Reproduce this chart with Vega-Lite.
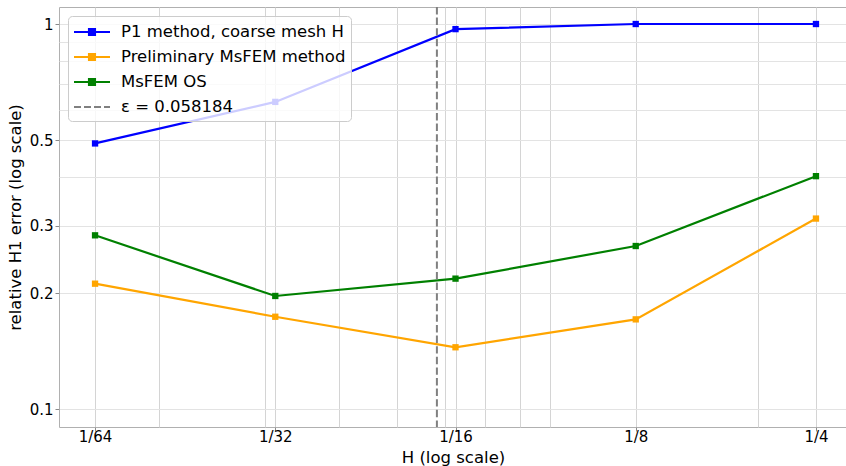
{
  "$schema": "https://vega.github.io/schema/vega-lite/v6.json",
  "width": 788,
  "height": 420,
  "autosize": {"type": "none"},
  "padding": {"left": 59, "top": 7, "right": 0, "bottom": 39},
  "config": {
    "font": "DejaVu Sans",
    "view": {"stroke": "#b0b0b0", "strokeWidth": 1},
    "axis": {
      "labelFont": "DejaVu Sans",
      "titleFont": "DejaVu Sans",
      "labelFontSize": 15,
      "titleFontSize": 16.5,
      "labelColor": "#000000",
      "titleColor": "#000000",
      "titleFontWeight": "normal",
      "domain": false,
      "tickColor": "#8a8a8a",
      "tickWidth": 1
    }
  },
  "encoding": {
    "x": {
      "field": "H",
      "type": "quantitative",
      "scale": {"type": "log", "domain": [0.013602, 0.2817], "nice": false, "zero": false},
      "axis": {
        "title": "H (log scale)",
        "values": [0.015625, 0.02, 0.03, 0.03125, 0.04, 0.05, 0.06, 0.0625, 0.07, 0.08, 0.09, 0.125, 0.2, 0.25],
        "labelExpr": "datum.value == 0.015625 ? '1/64' : datum.value == 0.03125 ? '1/32' : datum.value == 0.0625 ? '1/16' : datum.value == 0.125 ? '1/8' : datum.value == 0.25 ? '1/4' : ''",
        "tickOpacity": {"condition": {"test": "datum.value == 0.015625 || datum.value == 0.03125 || datum.value == 0.0625 || datum.value == 0.125 || datum.value == 0.25", "value": 1}, "value": 0},
        "tickSize": 4,
        "labelPadding": -1.5,
        "titleY": 35,
        "titleBaseline": "alphabetic",
        "gridColor": "#d4d4d4",
        "gridWidth": 1,
        "labelFlush": false,
        "labelOverlap": false
      }
    },
    "color": {
      "field": "series",
      "type": "nominal",
      "scale": {
        "domain": ["P1 method, coarse mesh H", "Preliminary MsFEM method", "MsFEM OS", "ε = 0.058184"],
        "range": ["#0000ff", "#ffa500", "#008000", "#808080"]
      },
      "legend": {
        "title": null,
        "orient": "none",
        "legendX": 9,
        "legendY": 9,
        "fillColor": "rgba(255,255,255,0.8)",
        "strokeColor": "#cccccc",
        "cornerRadius": 4,
        "padding": 5,
        "rowPadding": 5,
        "labelFont": "DejaVu Sans",
        "labelFontSize": 16.5,
        "labelColor": "#000000",
        "labelOffset": 10,
        "labelLimit": 0,
        "symbolSize": 1296,
        "symbolStrokeWidth": 2,
        "encode": {
          "symbols": {
            "update": {
              "shape": {"signal": "datum.value === 'ε = 0.058184' ? 'stroke' : 'M-1,0H1M-0.17,-0.17H0.17V0.17H-0.17Z'"},
              "fill": {"scale": "color", "field": "value"},
              "strokeDash": {"signal": "datum.value === 'ε = 0.058184' ? [7, 3] : [1, 0]"},
              "y": {"value": 11}
            }
          },
          "labels": {
            "update": {
              "y": {"value": 11}
            }
          }
        }
      }
    }
  },
  "layer": [
    {
      "data": {
        "values": [
          {"series": "P1 method, coarse mesh H", "H": 0.015625, "error": 0.49},
          {"series": "P1 method, coarse mesh H", "H": 0.03125, "error": 0.628},
          {"series": "P1 method, coarse mesh H", "H": 0.0625, "error": 0.97},
          {"series": "P1 method, coarse mesh H", "H": 0.125, "error": 1.0},
          {"series": "P1 method, coarse mesh H", "H": 0.25, "error": 1.0},
          {"series": "Preliminary MsFEM method", "H": 0.015625, "error": 0.212},
          {"series": "Preliminary MsFEM method", "H": 0.03125, "error": 0.174},
          {"series": "Preliminary MsFEM method", "H": 0.0625, "error": 0.145},
          {"series": "Preliminary MsFEM method", "H": 0.125, "error": 0.1713},
          {"series": "Preliminary MsFEM method", "H": 0.25, "error": 0.3128},
          {"series": "MsFEM OS", "H": 0.015625, "error": 0.283},
          {"series": "MsFEM OS", "H": 0.03125, "error": 0.197},
          {"series": "MsFEM OS", "H": 0.0625, "error": 0.2185},
          {"series": "MsFEM OS", "H": 0.125, "error": 0.2655},
          {"series": "MsFEM OS", "H": 0.25, "error": 0.403}
        ]
      },
      "mark": {
        "type": "line",
        "strokeWidth": 2.2,
        "point": {"shape": "square", "size": 40, "filled": true, "opacity": 1}
      },
      "encoding": {
        "y": {
          "field": "error",
          "type": "quantitative",
          "scale": {"type": "log", "domain": [0.09006, 1.107], "nice": false, "zero": false},
          "axis": {
            "title": "relative H1 error (log scale)",
            "values": [0.1, 0.2, 0.3, 0.4, 0.5, 0.6, 0.7, 0.8, 0.9, 1],
            "labelExpr": "datum.value == 1 ? '1' : datum.value == 0.1 ? '0.1' : datum.value == 0.2 ? '0.2' : datum.value == 0.3 ? '0.3' : datum.value == 0.5 ? '0.5' : ''",
            "tickOpacity": {"condition": {"test": "datum.value == 1 || datum.value == 0.1 || datum.value == 0.2 || datum.value == 0.3 || datum.value == 0.5", "value": 1}, "value": 0},
            "tickSize": 4,
            "labelPadding": 2,
            "titleX": -39,
            "titleBaseline": "alphabetic",
            "gridColor": "#e3e3e3",
            "gridWidth": 1.2,
            "labelOverlap": false,
            "labelFlush": false
          }
        }
      }
    },
    {
      "data": {"values": [{"series": "ε = 0.058184", "H": 0.058184}]},
      "mark": {"type": "rule", "strokeDash": [7.4, 3.2], "strokeWidth": 2},
      "encoding": {}
    }
  ]
}
